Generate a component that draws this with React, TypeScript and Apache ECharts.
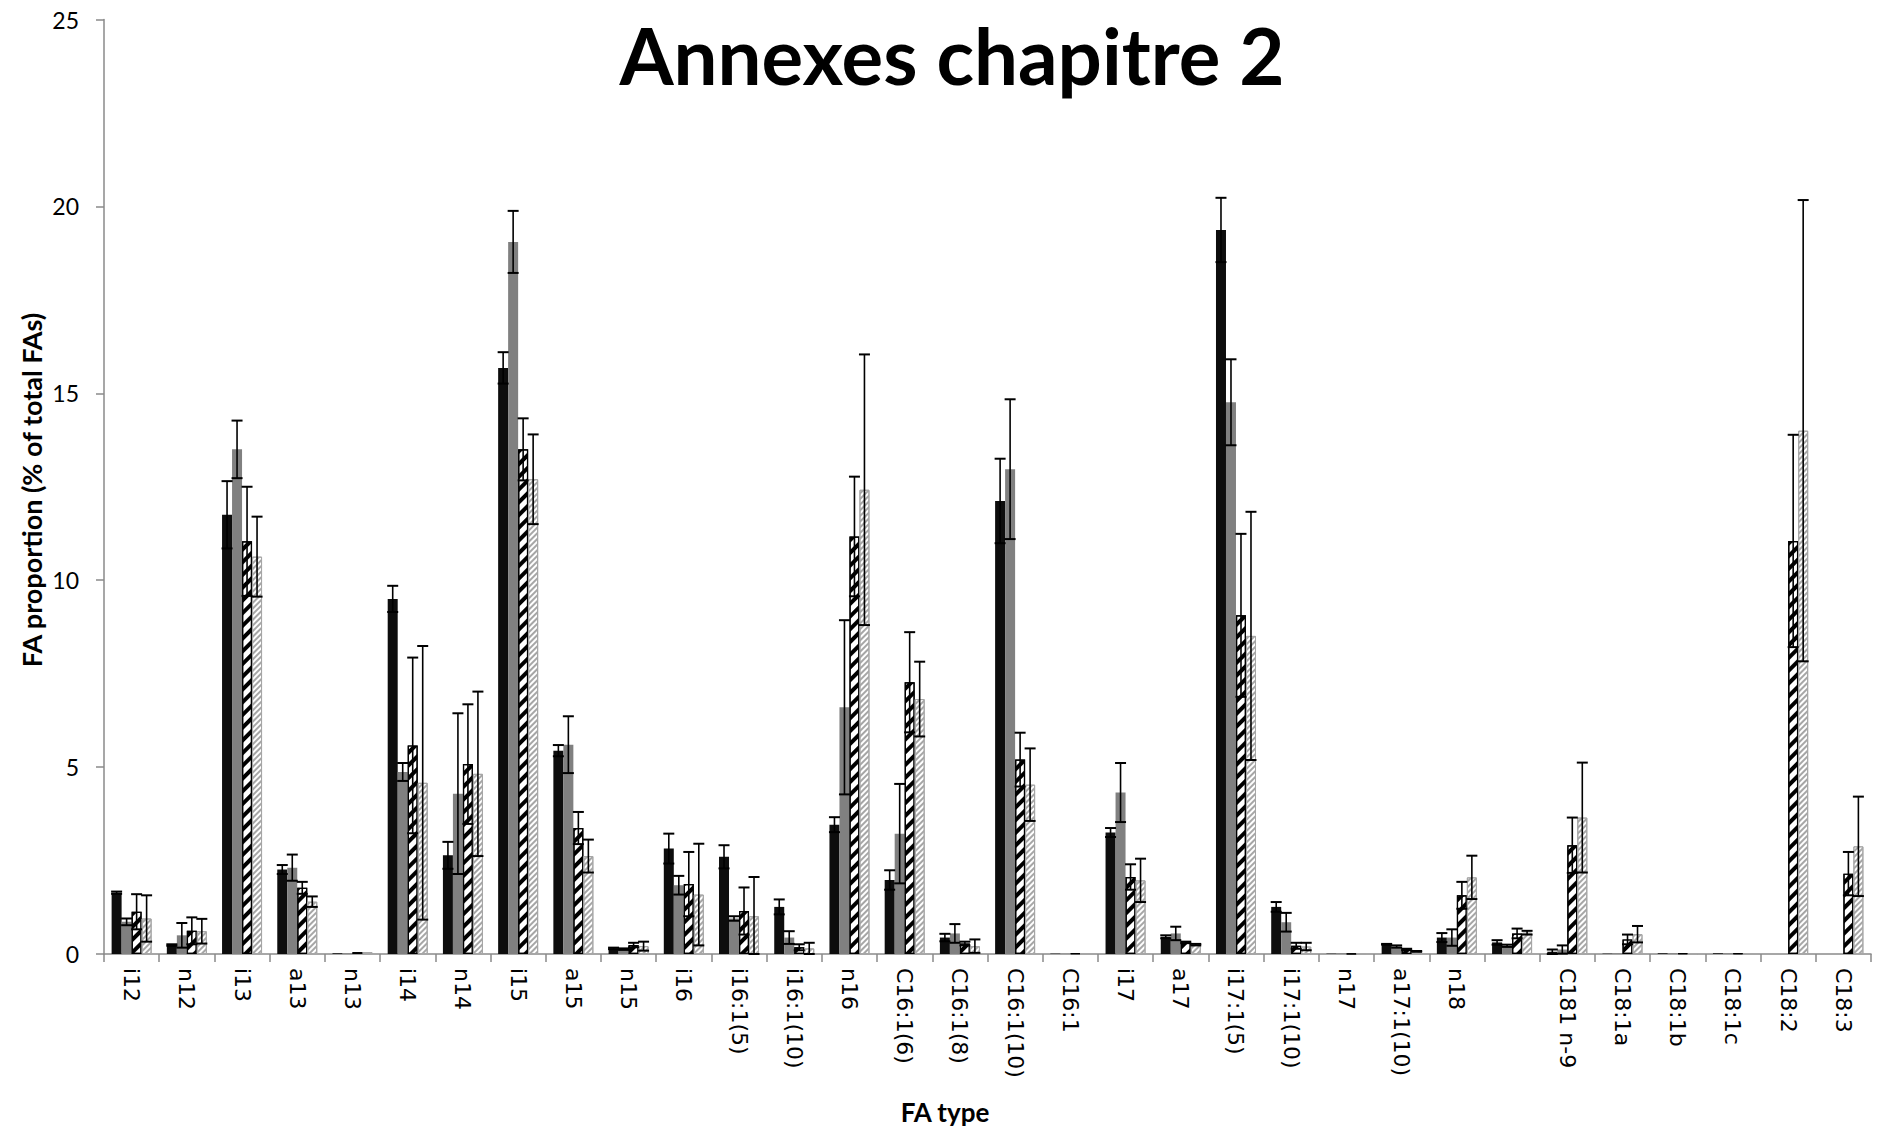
import React, { useEffect, useRef } from 'react';
import * as echarts from 'echarts';

const categories = ['i12', 'n12', 'i13', 'a13', 'n13', 'i14', 'n14', 'i15', 'a15', 'n15', 'i16', 'i16:1(5)', 'i16:1(10)', 'n16', 'C16:1(6)', 'C16:1(8)', 'C16:1(10)', 'C16:1', 'i17', 'a17', 'i17:1(5)', 'i17:1(10)', 'n17', 'a17:1(10)', 'n18', '', 'C181 n-9', 'C18:1a', 'C18:1b', 'C18:1c', 'C18:2', 'C18:3'];

const yTicks = [0, 5, 10, 15, 20, 25];

const blackVals = [1.64, 0.24, 11.75, 2.26, 0.02, 9.5, 2.64, 15.68, 5.44, 0.15, 2.82, 2.6, 1.26, 3.46, 1.98, 0.44, 12.12, 0.01, 3.25, 0.46, 19.37, 1.26, 0.01, 0.26, 0.44, 0.31, 0.06, 0.01, 0.02, 0.02, 0, 0];
const blackErr = [0.03, 0.02, 0.9, 0.12, 0, 0.35, 0.36, 0.42, 0.15, 0.02, 0.4, 0.31, 0.2, 0.2, 0.26, 0.1, 1.13, 0, 0.12, 0.04, 0.86, 0.13, 0, 0.01, 0.12, 0.06, 0.06, 0, 0, 0, 0, 0];

const grayVals = [0.86, 0.5, 13.5, 2.31, 0.02, 4.87, 4.29, 19.05, 5.6, 0.13, 1.84, 0.95, 0.44, 6.6, 3.22, 0.55, 12.97, 0.01, 4.32, 0.55, 14.76, 0.85, 0.02, 0.2, 0.44, 0.22, 0.12, 0.02, 0.02, 0.02, 0, 0];
const grayErr = [0.09, 0.33, 0.77, 0.35, 0, 0.24, 2.15, 0.83, 0.76, 0.02, 0.25, 0.06, 0.17, 2.33, 1.33, 0.25, 1.87, 0, 0.79, 0.18, 1.15, 0.25, 0, 0.03, 0.22, 0.03, 0.11, 0, 0, 0, 0, 0];

const hatchVals = [1.13, 0.62, 11.04, 1.77, 0.05, 5.58, 5.08, 13.5, 3.37, 0.24, 1.87, 1.15, 0.18, 11.17, 7.27, 0.28, 5.2, 0.02, 2.06, 0.31, 9.06, 0.22, 0.01, 0.12, 1.57, 0.55, 2.91, 0.39, 0.02, 0.02, 11.05, 2.15];
const hatchErr = [0.47, 0.36, 1.46, 0.16, 0, 2.35, 1.6, 0.83, 0.43, 0.06, 0.86, 0.63, 0.08, 1.6, 1.34, 0.05, 0.72, 0, 0.34, 0.02, 2.18, 0.08, 0, 0.02, 0.36, 0.13, 0.74, 0.13, 0, 0, 2.84, 0.58];

const lightVals = [0.95, 0.61, 10.63, 1.4, 0.05, 4.58, 4.82, 12.7, 2.62, 0.21, 1.59, 1.01, 0.15, 12.42, 6.82, 0.21, 4.53, 0.02, 1.97, 0.25, 8.51, 0.2, 0.01, 0.07, 2.05, 0.57, 3.65, 0.53, 0.02, 0.02, 14.0, 2.88];
const lightErr = [0.62, 0.33, 1.07, 0.14, 0, 3.66, 2.2, 1.2, 0.44, 0.12, 1.36, 1.05, 0.15, 3.62, 1.0, 0.18, 0.97, 0, 0.58, 0.02, 3.32, 0.1, 0, 0.01, 0.58, 0.05, 1.47, 0.22, 0, 0, 6.17, 1.33];

const BAR_W = 10;

function makeErrSeries(vals: number[], errs: number[], idx: number) {
  return {
    type: 'custom',
    name: 'err' + idx,
    z: 10,
    encode: { x: 0, y: 1 },
    data: vals.map((v, i) => [i, v, errs[i]]),
    renderItem: (params: any, api: any) => {
      const i = api.value(0);
      const v = api.value(1);
      const e = api.value(2);
      if (!(e > 0)) return null;
      const top = api.coord([i, v + e]);
      const bot = api.coord([i, Math.max(0, v - e)]);
      const x = top[0] + (idx - 1.5) * BAR_W;
      const cap = 5.5;
      const st = { stroke: '#000', lineWidth: 1.6 };
      return {
        type: 'group',
        children: [
          { type: 'line', shape: { x1: x, y1: top[1], x2: x, y2: bot[1] }, style: st },
          { type: 'line', shape: { x1: x - cap, y1: top[1], x2: x + cap, y2: top[1] }, style: { stroke: '#000', lineWidth: 2 } },
          { type: 'line', shape: { x1: x - cap, y1: bot[1], x2: x + cap, y2: bot[1] }, style: { stroke: '#000', lineWidth: 2 } },
        ],
      };
    },
  };
}

export default function App() {
  const ref = useRef<HTMLDivElement>(null);
  useEffect(() => {
    const chart = echarts.init(ref.current!, null, { renderer: 'svg' });
    const option: any = {
      animation: false,
      backgroundColor: '#fff',
      grid: { left: 104, right: 7, top: 19.5, bottom: 173, containLabel: false },
      xAxis: {
        type: 'category',
        data: categories,
        axisLine: { show: true, lineStyle: { color: '#8a8a8a', width: 1.5 } },
        axisTick: { show: true, length: 8, lineStyle: { color: '#8a8a8a', width: 1.5 } },
        axisLabel: {
          interval: 0,
          rotate: -90,
          margin: 14,
          fontFamily: 'DejaVu Sans',
          fontSize: 22,
          color: '#000',
        },
        splitLine: { show: false },
      },
      yAxis: {
        type: 'value',
        min: yTicks[0],
        max: yTicks[yTicks.length - 1],
        interval: 5,
        axisLine: { show: true, lineStyle: { color: '#8a8a8a', width: 1.5 } },
        axisTick: { show: true, length: 8, lineStyle: { color: '#8a8a8a', width: 1.5 } },
        axisLabel: { margin: 25, fontFamily: 'Lato', fontSize: 23, color: '#000' },
        splitLine: { show: false },
      },
      graphic: [
        {
          type: 'text',
          x: 952,
          y: 55,
          style: {
            text: 'Annexes chapitre 2',
            font: 'bold 78px Lato',
            fill: '#000',
            textAlign: 'center',
            textVerticalAlign: 'middle',
          },
        },
        {
          type: 'text',
          x: 31,
          y: 490,
          rotation: Math.PI / 2,
          style: {
            text: 'FA proportion (% of total FAs)',
            font: 'bold 27px Lato',
            fill: '#000',
            textAlign: 'center',
            textVerticalAlign: 'middle',
          },
        },
        {
          type: 'text',
          x: 945,
          y: 1112,
          style: {
            text: 'FA type',
            font: 'bold 26px Lato',
            fill: '#000',
            textAlign: 'center',
            textVerticalAlign: 'middle',
          },
        },
      ],
      series: [
        {
          type: 'bar',
          name: 'black',
          data: blackVals,
          barWidth: BAR_W,
          barGap: '0%',
          itemStyle: { color: '#0d0d0d' },
        },
        {
          type: 'bar',
          name: 'gray',
          data: grayVals,
          barWidth: BAR_W,
          barGap: '0%',
          itemStyle: { color: '#808080' },
        },
        {
          type: 'bar',
          name: 'hatch',
          data: hatchVals,
          barWidth: BAR_W,
          barGap: '0%',
          itemStyle: {
            color: '#ffffff',
            borderColor: '#000',
            borderWidth: 1.2,
            decal: {
              symbol: 'rect',
              symbolSize: 1,
              color: '#000',
              backgroundColor: '#fff',
              dashArrayX: [1, 0],
              dashArrayY: [4, 5],
              rotation: -Math.PI / 4,
            },
          },
        },
        {
          type: 'bar',
          name: 'light',
          data: lightVals,
          barWidth: BAR_W,
          barGap: '0%',
          itemStyle: {
            color: '#ffffff',
            borderColor: '#a6a6a6',
            borderWidth: 1,
            decal: {
              symbol: 'rect',
              symbolSize: 1,
              color: '#a6a6a6',
              backgroundColor: '#fff',
              dashArrayX: [1, 0],
              dashArrayY: [2, 2],
              rotation: -Math.PI / 4,
            },
          },
        },
        makeErrSeries(blackVals, blackErr, 0),
        makeErrSeries(grayVals, grayErr, 1),
        makeErrSeries(hatchVals, hatchErr, 2),
        makeErrSeries(lightVals, lightErr, 3),
      ],
    };
    chart.setOption(option);
    return () => chart.dispose();
  }, []);
  return <div ref={ref} style={{ position: 'absolute', left: 0, top: 0, width: 1878, height: 1127 }} />;
}
